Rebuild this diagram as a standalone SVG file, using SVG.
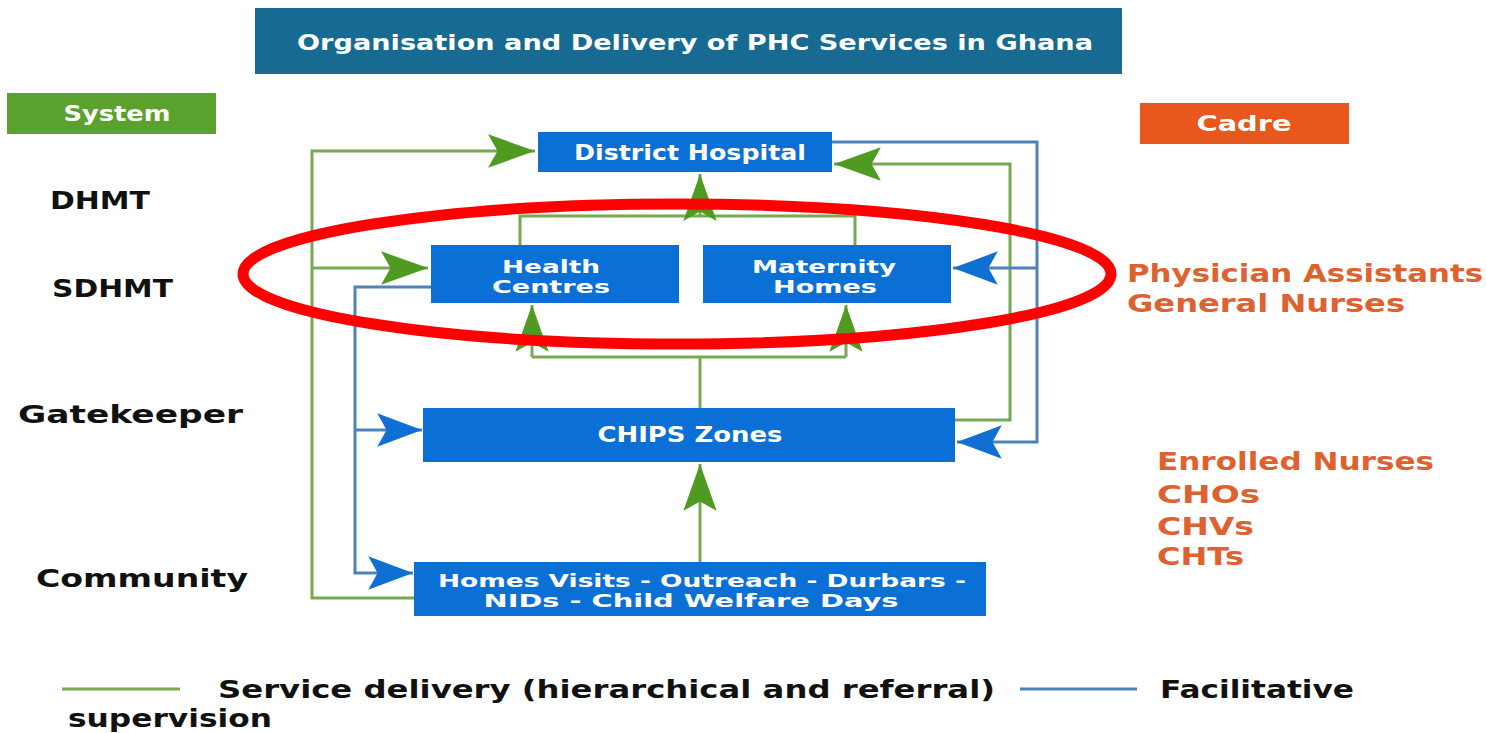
<svg xmlns="http://www.w3.org/2000/svg" width="1486" height="733" viewBox="0 0 1486 733">
<style>
  .box{fill:#0b70d6;}
  .bt{font-family:"DejaVu Sans","Liberation Sans",sans-serif;font-weight:bold;fill:#ffffff;text-anchor:middle;font-size:21px;}
  .bt2{font-family:"DejaVu Sans","Liberation Sans",sans-serif;font-weight:bold;fill:#ffffff;text-anchor:middle;font-size:17px;}
  .lbl{font-family:"DejaVu Sans","Liberation Sans",sans-serif;font-weight:bold;fill:#111111;font-size:25px;}
  .cad{font-family:"DejaVu Sans","Liberation Sans",sans-serif;font-weight:bold;fill:#dd6230;font-size:25px;}
  .g{fill:none;stroke:#79a852;stroke-width:3;}
  .b{fill:none;stroke:#4f82b8;stroke-width:3;}
</style>
<defs>
  <marker id="ag" markerUnits="userSpaceOnUse" markerWidth="50" markerHeight="40" viewBox="-46 -18 48 36" refX="0" refY="0" orient="auto">
    <path d="M0,0 L-45,-16 L-36,0 L-45,16 Z" fill="#4f9b22"/>
  </marker>
  <marker id="ab" markerUnits="userSpaceOnUse" markerWidth="50" markerHeight="40" viewBox="-46 -18 48 36" refX="0" refY="0" orient="auto">
    <path d="M0,0 L-43,-16 L-34,0 L-43,16 Z" fill="#0f6fd2"/>
  </marker>
</defs>
<rect width="1486" height="733" fill="#ffffff"/>

<g id="title">
  <rect x="255" y="8" width="867" height="66" fill="#176b92"/>
  <text x="695" y="50" class="bt" font-size="22" textLength="796" lengthAdjust="spacingAndGlyphs">Organisation and Delivery of PHC Services in Ghana</text>
</g>
<g id="system">
  <rect x="7" y="93" width="209" height="41" fill="#5ba12d"/>
  <text x="117" y="121" class="bt" font-size="21" textLength="107" lengthAdjust="spacingAndGlyphs">System</text>
</g>
<g id="cadre">
  <rect x="1140" y="103" width="209" height="41" fill="#e8581c"/>
  <text x="1244" y="131" class="bt" font-size="21" textLength="95" lengthAdjust="spacingAndGlyphs">Cadre</text>
</g>

<g id="connectors">
  <!-- green service delivery -->
  <polyline class="g" points="414,598 312,598 312,151 535,151" marker-end="url(#ag)"/>
  <polyline class="g" points="312,268 428,268" marker-end="url(#ag)"/>
  <polyline class="g" points="520,245 520,216 855,216 855,245"/>
  <polyline class="g" points="700,216 700,174" marker-end="url(#ag)"/>
  <polyline class="g" points="700,408 700,357"/>
  <polyline class="g" points="532,357 846,357"/>
  <polyline class="g" points="532,357 532,305" marker-end="url(#ag)"/>
  <polyline class="g" points="846,357 846,305" marker-end="url(#ag)"/>
  <polyline class="g" points="700,562 700,464" marker-end="url(#ag)"/>
  <polyline class="g" points="955,420 1010,420 1010,164 834,164" marker-end="url(#ag)"/>
  <!-- blue facilitative supervision -->
  <polyline class="b" points="431,287 355,287 355,573 413,573" marker-end="url(#ab)"/>
  <polyline class="b" points="355,430 422,430" marker-end="url(#ab)"/>
  <polyline class="b" points="832,142 1037,142 1037,442 957,442" marker-end="url(#ab)"/>
  <polyline class="b" points="1037,268 953,268" marker-end="url(#ab)"/>
</g>

<g id="district-hospital">
  <rect class="box" x="538" y="132" width="294" height="40"/>
  <text class="bt" x="690" y="160" textLength="232" lengthAdjust="spacingAndGlyphs">District Hospital</text>
</g>
<g id="health-centres">
  <rect class="box" x="431" y="245" width="248" height="58"/>
  <text class="bt2" x="551" y="273" textLength="98" lengthAdjust="spacingAndGlyphs">Health</text>
  <text class="bt2" x="551" y="293" textLength="118" lengthAdjust="spacingAndGlyphs">Centres</text>
</g>
<g id="maternity-homes">
  <rect class="box" x="703" y="245" width="248" height="58"/>
  <text class="bt2" x="824" y="273" textLength="144" lengthAdjust="spacingAndGlyphs">Maternity</text>
  <text class="bt2" x="825" y="293" textLength="104" lengthAdjust="spacingAndGlyphs">Homes</text>
</g>
<g id="chips-zones">
  <rect class="box" x="423" y="408" width="532" height="54"/>
  <text class="bt" x="690" y="442" textLength="185" lengthAdjust="spacingAndGlyphs">CHIPS Zones</text>
</g>
<g id="community-activities">
  <rect class="box" x="414" y="562" width="572" height="54"/>
  <text class="bt2" x="702" y="587" textLength="528" lengthAdjust="spacingAndGlyphs">Homes Visits - Outreach - Durbars -</text>
  <text class="bt2" x="691" y="607" textLength="415" lengthAdjust="spacingAndGlyphs">NIDs - Child Welfare Days</text>
</g>

<g id="system-labels">
  <text class="lbl" x="50" y="209" textLength="100" lengthAdjust="spacingAndGlyphs">DHMT</text>
  <text class="lbl" x="52" y="297" textLength="121" lengthAdjust="spacingAndGlyphs">SDHMT</text>
  <text class="lbl" x="18" y="423" textLength="225" lengthAdjust="spacingAndGlyphs">Gatekeeper</text>
  <text class="lbl" x="36" y="587" textLength="212" lengthAdjust="spacingAndGlyphs">Community</text>
</g>
<g id="cadre-labels">
  <text class="cad" x="1127" y="282" textLength="356" lengthAdjust="spacingAndGlyphs">Physician Assistants</text>
  <text class="cad" x="1127" y="312" textLength="278" lengthAdjust="spacingAndGlyphs">General Nurses</text>
  <text class="cad" x="1157" y="470" textLength="277" lengthAdjust="spacingAndGlyphs">Enrolled Nurses</text>
  <text class="cad" x="1157" y="503" textLength="103" lengthAdjust="spacingAndGlyphs">CHOs</text>
  <text class="cad" x="1157" y="535" textLength="97" lengthAdjust="spacingAndGlyphs">CHVs</text>
  <text class="cad" x="1157" y="565" textLength="87" lengthAdjust="spacingAndGlyphs">CHTs</text>
</g>

<g id="highlight">
  <ellipse cx="677" cy="274" rx="434" ry="70" fill="none" stroke="#ff0000" stroke-width="11"/>
</g>

<g id="legend">
  <line x1="62" y1="689" x2="180" y2="689" stroke="#79a852" stroke-width="3"/>
  <text class="lbl" x="218" y="698" textLength="777" lengthAdjust="spacingAndGlyphs">Service delivery (hierarchical and referral)</text>
  <line x1="1020" y1="689" x2="1137" y2="689" stroke="#4f82b8" stroke-width="3"/>
  <text class="lbl" x="1160" y="698" textLength="194" lengthAdjust="spacingAndGlyphs">Facilitative</text>
  <text class="lbl" x="68" y="727" textLength="204" lengthAdjust="spacingAndGlyphs">supervision</text>
</g>
</svg>
